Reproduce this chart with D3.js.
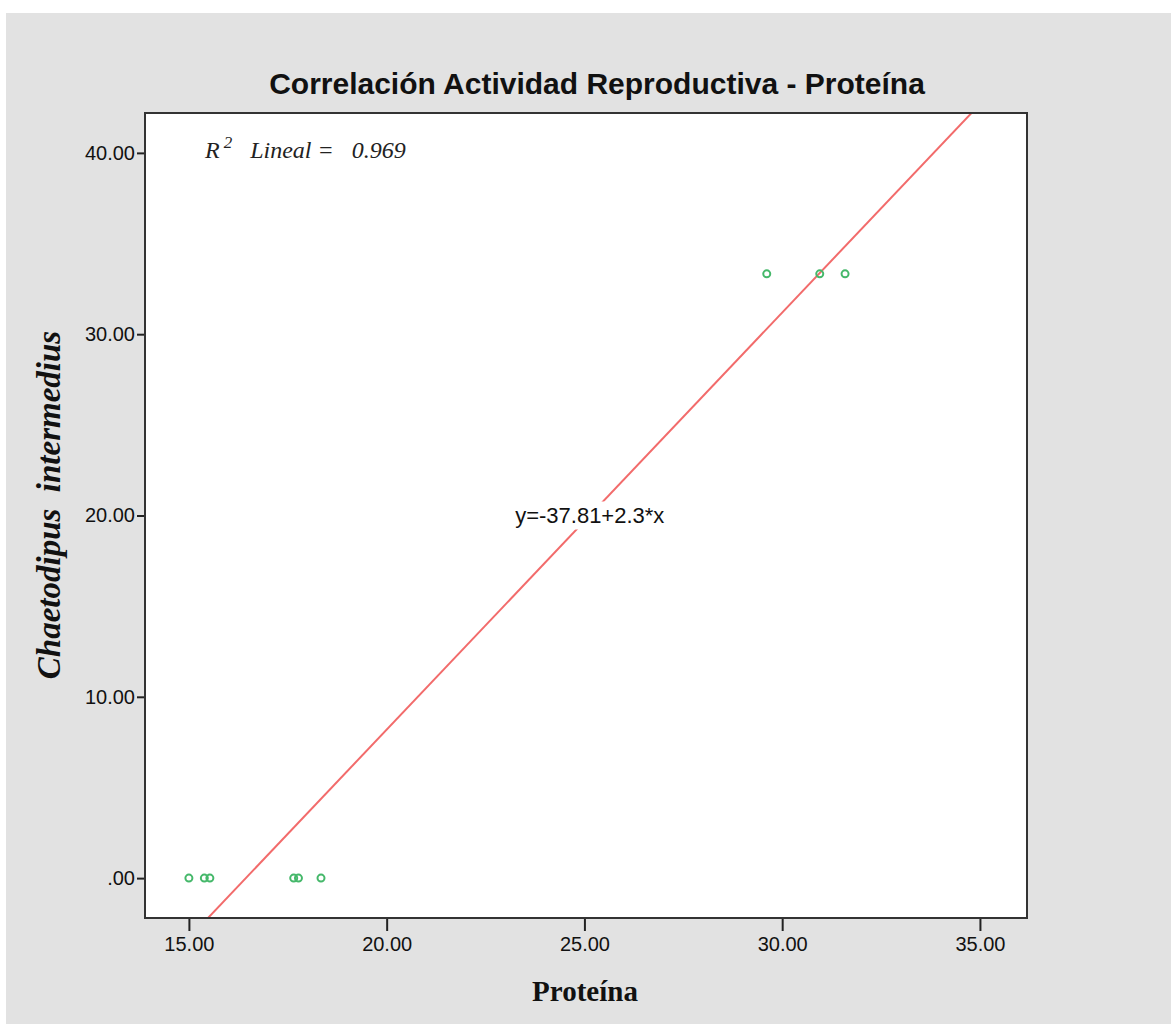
<!DOCTYPE html>
<html>
<head>
<meta charset="utf-8">
<script src="https://cdn.jsdelivr.net/npm/d3@7"></script>
<style>
  body { margin: 0; background: #fff; }
  svg { display: block; }
  svg text { white-space: pre; }
  .tick text { font-family: "Liberation Sans Narrow", "Liberation Sans", Arial, sans-serif; font-size: 20px; fill: #111; }
</style>
</head>
<body>
<div id="chart"></div>
<script>
// data
var proteina = [15.00, 15.39, 15.53, 17.65, 17.77, 18.34, 29.61, 30.95, 31.59];
var chaetodipus = [0, 0, 0, 0, 0, 0, 33.33, 33.33, 33.33];
var xTicks = [15, 20, 25, 30, 35];
var yTicks = [0, 10, 20, 30, 40];
var intercept = -37.81, slope = 2.3, r2 = 0.969;

var width = 1171, height = 1024;
var svg = d3.select("#chart").append("svg")
    .attr("width", width)
    .attr("height", height);

svg.append("rect")
    .attr("x", 6).attr("y", 13)
    .attr("width", width - 6).attr("height", height - 13)
    .attr("fill", "#e2e2e2");

var pLeft = 145, pTop = 113, pRight = 1027, pBottom = 918;

var x = d3.scaleLinear().domain([13.89, 36.19]).range([pLeft, pRight]);
var y = d3.scaleLinear().domain([-2.2, 42.2]).range([pBottom, pTop]);

svg.append("rect")
    .attr("x", pLeft).attr("y", pTop)
    .attr("width", pRight - pLeft).attr("height", pBottom - pTop)
    .attr("fill", "#fff");

svg.append("defs").append("clipPath").attr("id", "clip")
    .append("rect")
    .attr("x", pLeft).attr("y", pTop)
    .attr("width", pRight - pLeft).attr("height", pBottom - pTop);

// fit line
var x0 = x.domain()[0], x1 = x.domain()[1];
svg.append("line")
    .attr("clip-path", "url(#clip)")
    .attr("x1", x(x0)).attr("y1", y(intercept + slope * x0))
    .attr("x2", x(x1)).attr("y2", y(intercept + slope * x1))
    .attr("stroke", "#f26b6b")
    .attr("stroke-width", 2);

// points
svg.append("g").selectAll("circle")
    .data(proteina)
    .join("circle")
    .attr("cx", function(d) { return x(d); })
    .attr("cy", function(d, i) { return y(chaetodipus[i]); })
    .attr("r", 3.5)
    .attr("fill", "none")
    .attr("stroke", "#45b86a")
    .attr("stroke-width", 2);

// equation label at y = 20
var eqY = 20, eqX = (eqY - intercept) / slope;
var eq = svg.append("g").attr("transform", "translate(" + x(eqX) + "," + y(eqY) + ")");
eq.append("rect")
    .attr("x", -80).attr("y", -14).attr("width", 160).attr("height", 28)
    .attr("fill", "#fff");
eq.append("text")
    .attr("text-anchor", "middle")
    .attr("dy", "0.36em")
    .attr("font-family", "Liberation Sans, Arial, sans-serif")
    .attr("font-size", 22)
    .attr("fill", "#111")
    .text("y=" + intercept + "+" + slope + "*x");

// axes
var xAxis = svg.append("g")
    .attr("transform", "translate(0," + pBottom + ")")
    .call(d3.axisBottom(x).tickValues(xTicks).tickFormat(d3.format(".2f")).tickSize(13).tickPadding(6));
var yAxis = svg.append("g")
    .attr("transform", "translate(" + pLeft + ",0)")
    .call(d3.axisLeft(y).tickValues(yTicks).tickFormat(function(d) { return d === 0 ? ".00" : d3.format(".2f")(d); }).tickSize(8).tickPadding(2));
[xAxis, yAxis].forEach(function(a) {
    a.select(".domain").remove();
    a.selectAll(".tick line").attr("stroke", "#222").attr("stroke-width", 2);
});

// frame
svg.append("rect")
    .attr("x", pLeft).attr("y", pTop)
    .attr("width", pRight - pLeft).attr("height", pBottom - pTop)
    .attr("fill", "none")
    .attr("stroke", "#333")
    .attr("stroke-width", 2);

// title
svg.append("text")
    .attr("x", 597).attr("y", 94)
    .attr("text-anchor", "middle")
    .attr("font-family", "Liberation Sans Narrow, Liberation Sans, Arial, sans-serif")
    .attr("font-size", 30)
    .attr("font-weight", "bold")
    .attr("fill", "#111")
    .text("Correlación Actividad Reproductiva - Proteína");

// R2 note
var r2t = svg.append("text")
    .attr("x", 205).attr("y", 158)
    .attr("font-family", "Liberation Serif, serif")
    .attr("font-style", "italic")
    .attr("font-size", 24)
    .attr("fill", "#222");
r2t.append("tspan").text("R");
r2t.append("tspan").attr("dy", -10).attr("font-size", 17).attr("dx", 4).text("2");
r2t.append("tspan").attr("dy", 10).text("   Lineal =   " + r2.toFixed(3));

// axis titles
svg.append("text")
    .attr("x", 585).attr("y", 1001)
    .attr("text-anchor", "middle")
    .attr("font-family", "Liberation Serif, serif")
    .attr("font-weight", "bold")
    .attr("font-size", 29)
    .attr("fill", "#111")
    .text("Proteína");

svg.append("text")
    .attr("transform", "translate(60,505) rotate(-90)")
    .attr("text-anchor", "middle")
    .attr("font-family", "Liberation Serif, serif")
    .attr("font-weight", "bold")
    .attr("font-style", "italic")
    .attr("font-size", 33)
    .attr("fill", "#111")
    .text("Chaetodipus  intermedius");
</script>
</body>
</html>
